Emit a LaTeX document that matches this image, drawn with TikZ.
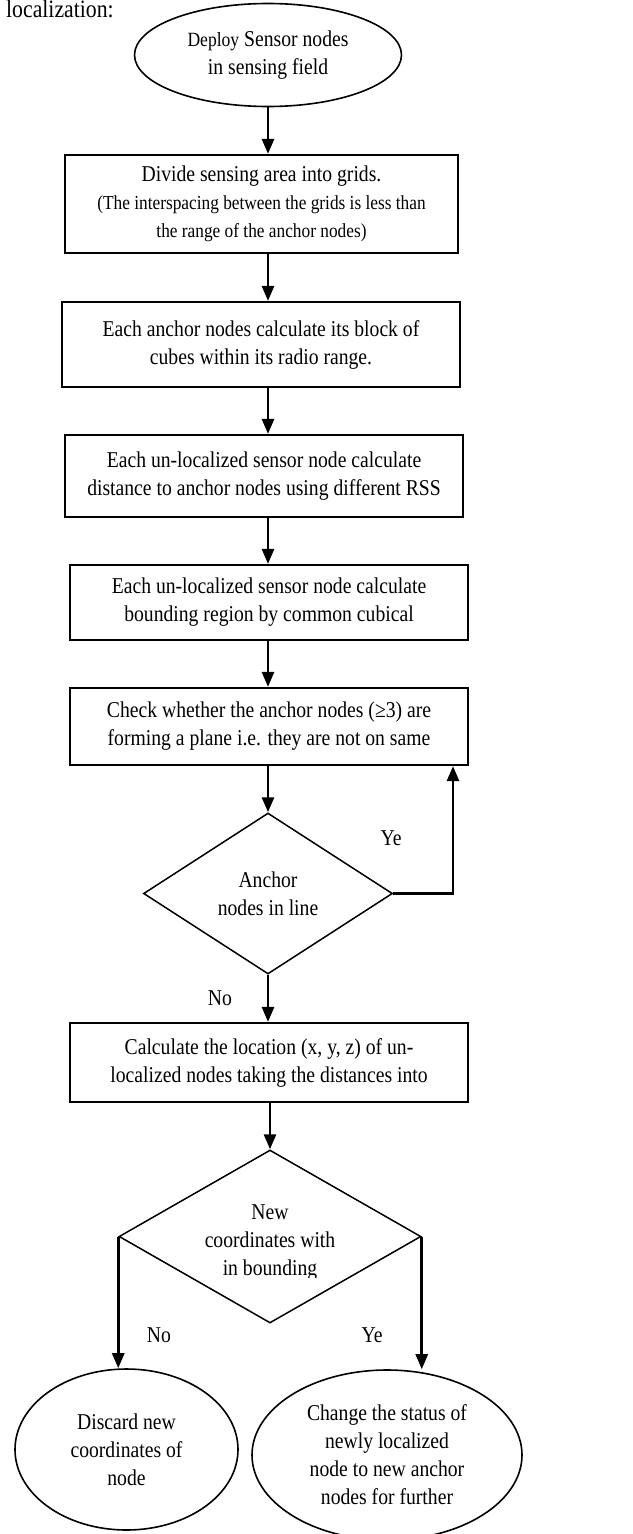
\documentclass[tikz,border=0pt]{standalone}
\usepackage{fontspec}
\setmainfont{Liberation Serif}[FakeStretch=0.87]
\usetikzlibrary{shapes.geometric,arrows.meta}
\begin{document}
\begin{tikzpicture}[x=1pt,y=-1pt,
 every node/.style={font=\fontsize{22.6}{28}\selectfont, align=center, inner sep=0pt},
 ell/.style={draw, ellipse, line width=1.6pt},
 box/.style={draw, rectangle, line width=2.2pt},
 dia/.style={draw, diamond, line width=1.5pt},
 arr/.style={-{Triangle[width=12pt,length=15pt]}, line width=2.7pt}]
\useasboundingbox (0,0) rectangle (632,1534);

\node[anchor=base west, font=\fontsize{25}{28}\selectfont] (title) at (6,17) {localization:};

\node[ell, minimum width=267pt, minimum height=103pt] (e1) at (268,55)
  {{\fontsize{20.2}{28}\selectfont Deploy} Sensor nodes\\in sensing field};

\node[box, minimum width=393pt, minimum height=98pt] (b1) at (261.5,204)
  {{\fontsize{22.6}{27}\selectfont Divide sensing area into grids.}\\
   {\fontsize{19.9}{25}\selectfont (The interspacing between the grids is less than}\\
   {\fontsize{19.9}{25}\selectfont the range of the anchor nodes)}};

\node[box, minimum width=398pt, minimum height=85pt] (b2) at (261,344.5)
  {Each anchor nodes calculate its block of\\cubes within its radio range.};

\node[box, minimum width=398pt, minimum height=82pt] (b3) at (264,476)
  {Each un-localized sensor node calculate\\distance to anchor nodes using different RSS};

\node[box, minimum width=398pt, minimum height=75pt] (b4) at (269,602.5)
  {Each un-localized sensor node calculate\\bounding region by common cubical};

\node[box, minimum width=398pt, minimum height=77pt] (b5) at (269,726.5)
  {Check whether the anchor nodes (≥3) are\\forming a plane i.e. they are not on same};

\node[dia, minimum width=249pt, minimum height=161pt] (d1) at (268,893.5)
  {Anchor\\nodes in line};

\node[box, minimum width=398pt, minimum height=79pt] (b6) at (269,1062.5)
  {Calculate the location (x, y, z) of un-\\localized nodes taking the distances into};

\node[dia, minimum width=302pt, minimum height=173pt] (d2) at (270,1236.5) {};
\begin{scope}
  \clip (100,1180) rectangle (440,1277);
  \node (d2t) at (270,1243) {New\\coordinates with\\in bounding};
\end{scope}

\node[ell, minimum width=223pt, minimum height=161pt] (e2) at (126.5,1449.5)
  {Discard new\\coordinates of\\node};
\node[ell, minimum width=270pt, minimum height=170pt] (e3) at (387,1455)
  {Change the status of\\newly localized\\node to new anchor\\nodes for further};

\coordinate (ax) at (268,0);
\coordinate (loop) at (453,0);

\draw[arr] (e1.south) -- (ax |- b1.north);
\draw[arr] (ax |- b1.south) -- (ax |- b2.north);
\draw[arr] (ax |- b2.south) -- (ax |- b3.north);
\draw[arr] (ax |- b3.south) -- (ax |- b4.north);
\draw[arr] (ax |- b4.south) -- (ax |- b5.north);
\draw[arr] (d1.north |- b5.south) -- (d1.north);
\draw[arr] (d1.east) -| (loop |- b5.south);
\draw[arr] (d1.south) -- (d1.south |- b6.north);
\draw[arr] (d2.north |- b6.south) -- (d2.north);
\draw[arr] (d2.west) -- (d2.west |- e2.north);
\draw[arr] (d2.east) -- (d2.east |- e3.north);

\node (ye1) at (391,838) {Ye};
\node (no1) at (220,998) {No};
\node (no2) at (159,1335) {No};
\node (ye2) at (372,1335) {Ye};
\end{tikzpicture}
\end{document}
